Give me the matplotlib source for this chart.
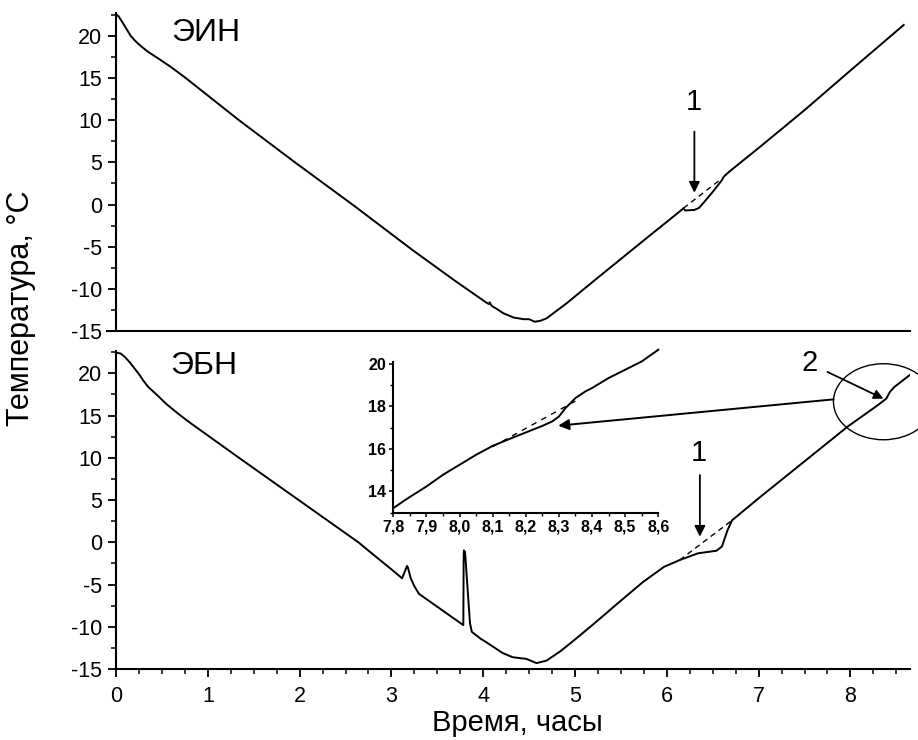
import matplotlib
matplotlib.use('Agg')
import matplotlib.pyplot as plt
from matplotlib.patches import Ellipse, ConnectionPatch
from matplotlib.ticker import MultipleLocator, FuncFormatter

plt.rcParams['font.family'] = 'Liberation Sans'
plt.rcParams['axes.unicode_minus'] = False

# ЭИН - upper curve (time, h / temperature, C)
ein_t = [0.0, 0.03, 0.07, 0.11, 0.16, 0.21, 0.27, 0.35, 0.45, 0.6, 0.76, 1.34, 1.95, 2.6,
         3.23, 3.7, 4.03, 4.06, 4.07, 4.09, 4.15, 4.22, 4.33, 4.44, 4.5, 4.56, 4.62,
         4.69, 4.8, 4.91, 5.2, 5.5, 5.8, 6.0, 6.16, 6.18, 6.2, 6.3, 6.35, 6.41, 6.5,
         6.6, 6.62, 6.68, 7.01, 7.5, 8.0, 8.58]
ein_T = [22.6, 22.3, 21.6, 20.9, 20.0, 19.4, 18.8, 18.1, 17.4, 16.3, 15.0, 10.0, 5.0, -0.2,
         -5.4, -9.1, -11.6, -11.8, -11.6, -12.0, -12.4, -12.9, -13.4, -13.6, -13.6, -13.9, -13.8,
         -13.5, -12.6, -11.7, -9.1, -6.45, -3.8, -2.05, -0.64, -0.45, -0.7, -0.64, -0.4, 0.34, 1.5,
         2.9, 3.3, 3.9, 6.8, 11.2, 15.9, 21.3]
ein_dash_t = [6.18, 6.6]
ein_dash_T = [-0.44, 3.1]

# ЭБН - lower curve
ebn_t = [0.0, 0.05, 0.1, 0.15, 0.2, 0.25, 0.3, 0.35, 0.45, 0.55, 0.68, 0.8, 1.34, 1.99,
         2.64, 2.83, 3.0, 3.116, 3.144, 3.17, 3.18, 3.21, 3.25, 3.3, 3.6, 3.783, 3.787,
         3.79, 3.795, 3.80, 3.805, 3.83, 3.856, 3.876, 3.97, 4.03, 4.21, 4.32, 4.47, 4.58,
         4.69, 4.84, 5.0, 5.21, 5.5, 5.74, 5.97, 6.14, 6.34, 6.54, 6.6, 6.66, 6.71, 7.01,
         7.97, 8.3, 8.39, 8.43, 8.48, 8.67]
ebn_T = [22.45, 22.35, 21.9, 21.3, 20.6, 19.9, 19.1, 18.4, 17.4, 16.35, 15.2, 14.2, 10.0, 5.0,
         0.0, -1.7, -3.2, -4.26, -3.5, -2.8, -3.0, -4.26, -5.2, -6.1, -8.4, -9.8, -1.5,
         -0.95, -2.1, -1.1, -1.6, -5.6, -9.6, -10.6, -11.4, -11.8, -13.1, -13.6, -13.8, -14.3,
         -14.0, -12.9, -11.5, -9.6, -6.9, -4.7, -2.9, -2.1, -1.3, -1.0, -0.5, 1.4, 2.6, 5.3,
         13.7, 16.25, 17.0, 17.8, 18.4, 20.0]
ebn_dash_t = [6.14, 6.71]
ebn_dash_T = [-2.1, 2.6]

# inset: zoom of ЭБН around point 2
ins_t = [7.8, 7.84, 7.9, 7.95, 8.0, 8.05, 8.1, 8.15, 8.2, 8.25, 8.28, 8.3, 8.32,
         8.35, 8.38, 8.4, 8.45, 8.5, 8.55, 8.6]
ins_T = [13.21, 13.64, 14.23, 14.78, 15.25, 15.72, 16.14, 16.46, 16.77, 17.08, 17.29,
         17.52, 17.92, 18.39, 18.7, 18.86, 19.33, 19.72, 20.11, 20.66]
ins_dash_t = [8.1, 8.35]
ins_dash_T = [16.1, 18.25]

fig = plt.figure(figsize=(9.18, 7.4), dpi=100)
ax1 = fig.add_axes([0.1264, 0.5527, 0.865, 0.4295])
ax2 = fig.add_axes([0.1264, 0.0959, 0.865, 0.4304])
axin = fig.add_axes([0.4284, 0.3072, 0.2887, 0.2041])

for ax in (ax1, ax2):
    ax.set_xlim(0, 8.65)
    ax.set_ylim(-15, 22.7)
    for s in ('top', 'right'):
        ax.spines[s].set_visible(False)
    for s in ('left', 'bottom'):
        ax.spines[s].set_linewidth(1.5)
    ax.yaxis.set_major_locator(MultipleLocator(5))
    ax.yaxis.set_minor_locator(MultipleLocator(2.5))
    ax.xaxis.set_major_locator(MultipleLocator(1))
    ax.xaxis.set_minor_locator(MultipleLocator(0.25))
    ax.tick_params(which='major', direction='out', length=6, width=1.3, labelsize=15.5, pad=4)
    ax.tick_params(which='minor', direction='out', length=3.5, width=1.1)

# upper panel: bare bottom line, a bit wider than the axes, no ticks
ax1.spines['bottom'].set_bounds(-0.1, 8.65)
ax1.tick_params(axis='x', which='both', bottom=False, labelbottom=False)
ax2.tick_params(axis='x', which='major', pad=6)

ax1.plot(ein_t, ein_T, color='black', lw=1.4)
ax1.plot(ein_dash_t, ein_dash_T, color='black', lw=1.0, ls=(0, (4, 3)))
ax2.plot(ebn_t, ebn_T, color='black', lw=1.4)
ax2.plot(ebn_dash_t, ebn_dash_T, color='black', lw=1.0, ls=(0, (4, 3)))

ax1.text(0.98, 20.4, 'ЭИН', fontsize=23, ha='center', va='center')
ax2.text(0.96, 20.9, 'ЭБН', fontsize=23, ha='center', va='center')

# arrows "1"
arr = dict(arrowstyle='-|>', color='black', lw=1.3, mutation_scale=16, shrinkA=0, shrinkB=0)
ax1.annotate('', xy=(6.3, 1.4), xytext=(6.3, 8.65), arrowprops=arr)
ax1.text(6.29, 12.2, '1', fontsize=21, ha='center', va='center')
ax2.annotate('', xy=(6.36, 0.66), xytext=(6.36, 7.96), arrowprops=arr)
ax2.text(6.35, 10.6, '1', fontsize=21, ha='center', va='center')

# arrow "2" and circle
ax2.annotate('2', xy=(8.36, 17.0), xytext=(7.55, 21.2), fontsize=21, ha='center', va='center',
             arrowprops=dict(arrowstyle='-|>', color='black', lw=1.3, mutation_scale=14,
                             shrinkA=6, shrinkB=0), annotation_clip=False)
ax2.add_patch(Ellipse((8.36, 16.64), width=1.09, height=9.0, fill=False, lw=1.0,
                      color='black', clip_on=False))

# inset
axin.plot(ins_t, ins_T, color='black', lw=1.4, clip_on=False)
axin.plot(ins_dash_t, ins_dash_T, color='black', lw=1.0, ls=(0, (4, 4)))
axin.set_xlim(7.8, 8.6)
axin.set_ylim(13, 20.1)
axin.patch.set_alpha(0)
for s in ('top', 'right'):
    axin.spines[s].set_visible(False)
for s in ('left', 'bottom'):
    axin.spines[s].set_linewidth(1.5)
axin.xaxis.set_major_locator(MultipleLocator(0.1))
axin.xaxis.set_minor_locator(MultipleLocator(0.05))
axin.yaxis.set_major_locator(MultipleLocator(2))
axin.yaxis.set_minor_locator(MultipleLocator(1))
axin.xaxis.set_major_formatter(FuncFormatter(lambda v, p: f'{v:.1f}'.replace('.', ',')))
axin.tick_params(which='major', direction='out', length=3, width=1.1, labelsize=11.5, pad=2)
axin.tick_params(which='minor', direction='out', length=2, width=1.0)
for lab in axin.get_xticklabels() + axin.get_yticklabels():
    lab.set_fontweight('bold')

con = ConnectionPatch(xyA=(7.815, 16.92), coordsA=ax2.transData,
                      xyB=(8.298, 17.09), coordsB=axin.transData,
                      arrowstyle='-|>', color='black', lw=1.4, mutation_scale=16)
fig.add_artist(con)

fig.text(0.023, 0.584, 'Температура, °C', rotation=90, fontsize=22, ha='center', va='center')
fig.text(0.564, 0.023, 'Время, часы', fontsize=21, ha='center', va='center')

fig.savefig('out.png', dpi=100)
